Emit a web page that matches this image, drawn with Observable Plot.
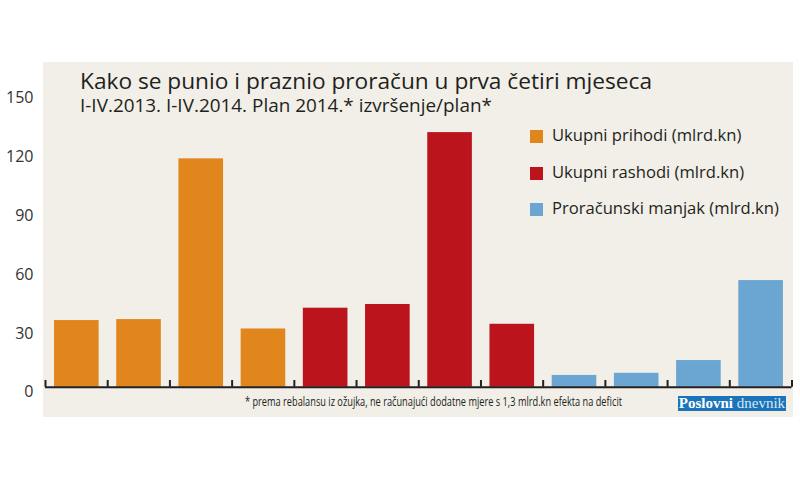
<!DOCTYPE html>
<html>
<head>
<meta charset="utf-8">
<script src="https://cdn.jsdelivr.net/npm/d3@7"></script>
<script src="https://cdn.jsdelivr.net/npm/@observablehq/plot@0.6"></script>
<style>
  html, body { margin: 0; padding: 0; background: #fff; }
  #wrap { position: relative; width: 800px; height: 480px; overflow: hidden; font-family: "Open Sans", sans-serif; color: #231f20; }
  #panel { position: absolute; left: 43px; top: 62px; width: 750px; height: 355px; background: #f1efe8; }
  #chart { position: absolute; left: 0; top: 0; }
  .t { position: absolute; white-space: nowrap; line-height: 1; }
  #title { left: 80px; top: 69.5px; font-size: 22.7px; }
  #subtitle { left: 80px; top: 95.5px; font-size: 18.5px; }
  .leg { position: absolute; left: 530px; height: 14px; white-space: nowrap; }
  .leg .sw { position: absolute; left: 0; top: 0; width: 13px; height: 13px; }
  .leg .lab { position: absolute; left: 22px; top: -3px; font-size: 16.6px; line-height: 1; white-space: nowrap; }
  #foot { left: 245px; top: 396px; font-size: 12.3px; transform-origin: 0 50%; }
  #logo { position: absolute; left: 678px; top: 396px; width: 108px; height: 15px; background: #1b73b9; color: #fff; font-family: "Liberation Serif", "DejaVu Serif", serif; font-size: 15px; line-height: 15px; text-align: center; white-space: nowrap; overflow: hidden; }
  #logo b { font-weight: bold; }
  #logo span { color: #d8e8f6; }
</style>
</head>
<body>
<div id="wrap">
  <div id="panel"></div>
  <div id="chart"></div>
  <div class="t" id="title">Kako se punio i praznio proračun u prva četiri mjeseca</div>
  <div class="t" id="subtitle">I-IV.2013. I-IV.2014. Plan 2014.* izvršenje/plan*</div>
  <div id="legend"></div>
  <div class="t" id="foot">* prema rebalansu iz ožujka, ne računajući dodatne mjere s 1,3 mlrd.kn efekta na deficit</div>
  <div id="logo"><b>Poslovni</b><span> dnevnik</span></div>
</div>
<script>
// ---- data ----
const categories = ["I-IV.2013.", "I-IV.2014.", "Plan 2014.*", "izvršenje/plan*"];
const seriesNames = ["Ukupni prihodi (mlrd.kn)", "Ukupni rashodi (mlrd.kn)", "Proračunski manjak (mlrd.kn)"];
const seriesColors = ["#e0861c", "#bb141c", "#6aa6d1"];
const prihodi = [34.0, 34.5, 116.5, 29.7];
const rashodi = [40.3, 42.2, 129.9, 32.1];
const manjak = [6.0, 7.1, 13.6, 54.4];
const yTicks = [0, 30, 60, 90, 120, 150];

// ---- table ----
const seriesValues = [prihodi, rashodi, manjak];
const rows = [];
seriesValues.forEach((vals, s) => {
  vals.forEach((v, c) => {
    rows.push({index: s * categories.length + c, series: seriesNames[s], category: categories[c], value: v});
  });
});
const boundaries = d3.range(rows.length + 1);

const chart = Plot.plot({
  width: 800,
  height: 480,
  marginLeft: 45,
  marginRight: 8.5,
  marginTop: 92.7,
  marginBottom: 93.3,
  style: {background: "transparent", fontFamily: "Open Sans, sans-serif", fontSize: "16px", color: "#333", overflow: "visible"},
  x: {domain: [0, rows.length], axis: null},
  y: {domain: [0, 150], axis: null},
  color: {domain: seriesNames, range: seriesColors},
  marks: [
    Plot.rectY(rows, {x1: d => d.index + 0.145, x2: d => d.index + 0.862, y1: 0, y2: "value", fill: "series"}),
    Plot.ruleY([0], {stroke: "#231f20", strokeWidth: 2}),
    Plot.ruleX(boundaries, {x: d => d, y1: 0, y2: 3.4, stroke: "#231f20", strokeWidth: 2}),
    Plot.axisY({ticks: yTicks, tickSize: 0, tickPadding: 12, dy: 5, fill: "#333", fontSize: 16, label: null})
  ]
});
document.getElementById("chart").appendChild(chart);

// ---- legend ----
const legend = document.getElementById("legend");
const legTops = [130, 166.5, 203];
seriesNames.forEach((name, i) => {
  const item = document.createElement("div");
  item.className = "leg";
  item.style.top = legTops[i] + "px";
  item.innerHTML = `<div class="sw" style="background:${seriesColors[i]}"></div><div class="lab">${name}</div>`;
  legend.appendChild(item);
});

// ---- fit text widths to the reference's extents ----
function fitFont(el, target) {
  const w = el.getBoundingClientRect().width;
  const fs = parseFloat(getComputedStyle(el).fontSize);
  el.style.fontSize = (fs * target / w) + "px";
}
fitFont(document.getElementById("title"), 572);
fitFont(document.getElementById("subtitle"), 412);
const foot = document.getElementById("foot");
const fw = foot.getBoundingClientRect().width;
foot.style.transform = `scaleX(${377 / fw})`;
</script>
</body>
</html>
